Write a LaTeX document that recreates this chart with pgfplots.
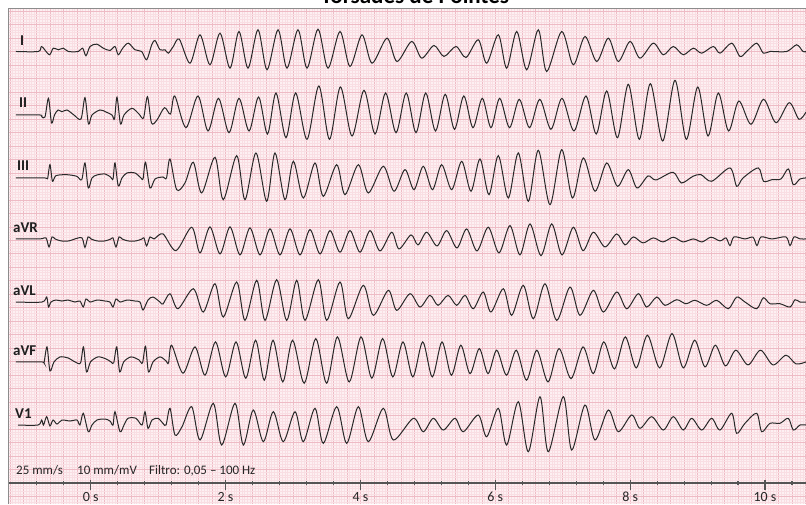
\documentclass[border=0pt]{standalone}
\usepackage{pgfplots}
\pgfplotsset{compat=1.18}
\usepackage{pgfplotstable}
\usepackage{fontspec}
\setmainfont{Carlito}

\definecolor{paper}{RGB}{253,240,242}
\definecolor{gridminor}{RGB}{249,222,227}
\definecolor{gridmajor}{RGB}{238,187,197}
\definecolor{trace}{RGB}{40,40,40}
\definecolor{axisgray}{RGB}{85,85,85}
\definecolor{framegray}{RGB}{140,140,140}

% t in s, v in mV above the lead's own baseline
\pgfplotstableread{
t v
-1.108 0
-0.777 0
-0.727 0.185
-0.614 -0.122
-0.555 0.122
-0.480 0.063
-0.406 0.122
-0.332 0
-0.184 0
-0.119 0.122
-0.070 -0.159
-0.010 0.185
0.089 0.271
0.187 0.122
0.286 0.037
0.360 0.185
0.409 -0.122
0.475 0.122
0.558 0.308
0.657 0.063
0.756 0
0.830 -0.308
0.905 0.248
0.954 0.408
1.028 0.063
1.102 0.063
1.151 -0.063
1.225 0.185
1.314 0.456
1.473 -0.434
1.621 0.619
1.769 -0.493
1.918 0.679
2.066 -0.619
2.199 0.742
2.333 -0.619
2.481 0.805
2.615 -0.679
2.778 0.805
2.911 -0.619
3.074 0.805
3.208 -0.619
3.371 0.827
3.519 -0.619
3.697 0.742
3.845 -0.556
4.023 0.619
4.172 -0.434
4.394 0.493
4.542 -0.371
4.760 0.371
4.909 -0.248
5.091 0.222
5.239 -0.185
5.417 0.185
5.566 -0.222
5.748 0.434
5.873 -0.434
6.045 0.619
6.169 -0.619
6.318 0.742
6.466 -0.679
6.638 0.805
6.762 -0.742
6.985 0.742
7.157 -0.493
7.330 0.556
7.504 -0.371
7.676 0.493
7.824 -0.371
7.998 0.371
8.146 -0.248
8.343 0.308
8.492 -0.122
8.640 0.185
8.788 -0.122
8.937 0.122
9.061 -0.063
9.233 0.185
9.333 -0.063
9.506 0.308
9.629 -0.185
9.728 0
9.877 0.308
9.975 -0.063
10.074 0
10.322 0
10.470 0.248
10.563 0
10.608 0
}\leadI

\pgfplotstableread{
t v
-1.108 0
-0.752 0
-0.727 -0.063
-0.678 -0.074
-0.626 0.619
-0.581 -0.297
-0.537 0
-0.485 0.185
-0.426 0.122
-0.351 0.185
-0.248 0
-0.144 -0.148
-0.085 0.642
-0.033 -0.334
0.019 0
0.138 0.185
0.227 0.111
0.316 0
0.353 -0.148
0.390 0.656
0.442 -0.334
0.494 0
0.612 0.248
0.716 0.037
0.783 -0.111
0.842 0.679
0.902 -0.297
0.983 -0.185
1.094 0.271
1.183 0.037
1.247 0.705
1.413 -0.471
1.591 0.705
1.740 -0.593
1.895 0.619
2.051 -0.656
2.199 0.619
2.348 -0.593
2.490 0.667
2.622 -0.705
2.748 0.816
2.896 -0.842
3.039 0.816
3.208 -0.901
3.383 1.075
3.541 -0.901
3.703 1.038
3.875 -0.779
4.053 0.916
4.216 -0.705
4.373 0.816
4.528 -0.656
4.679 0.816
4.824 -0.656
4.968 0.816
5.113 -0.593
5.257 0.768
5.395 -0.530
5.533 0.705
5.669 -0.471
5.807 0.619
5.936 -0.471
6.065 0.619
6.211 -0.471
6.356 0.582
6.507 -0.471
6.660 0.582
6.826 -0.530
6.989 0.619
7.167 -0.593
7.345 0.705
7.498 -0.705
7.652 0.890
7.812 -0.842
7.973 1.138
8.136 -0.901
8.300 1.161
8.483 -0.964
8.665 1.287
8.833 -0.901
9.002 1.038
9.155 -0.779
9.307 0.816
9.459 -0.593
9.611 0.519
9.792 -0.345
9.978 0.582
10.163 -0.286
10.359 0.456
10.504 -0.159
10.608 0.111
}\leadII

\pgfplotstableread{
t v
-1.108 0
-0.678 0
-0.641 -0.037
-0.604 0.493
-0.567 -0.122
-0.515 0.085
-0.356 0.122
-0.208 0.063
-0.133 -0.063
-0.085 0.556
-0.036 -0.371
0.019 0
0.093 0.111
0.212 0.148
0.294 0.037
0.331 -0.037
0.360 0.556
0.409 -0.297
0.464 0
0.538 0.185
0.657 0.185
0.746 0
0.776 -0.037
0.813 0.582
0.879 -0.371
0.954 -0.037
1.072 0.037
1.124 0
1.176 0.705
1.275 -0.434
1.398 -0.185
1.522 0.582
1.646 -0.556
1.843 0.768
1.966 -0.805
2.165 0.827
2.288 -0.805
2.451 0.927
2.610 -0.864
2.733 0.927
2.881 -0.805
3.005 0.619
3.153 -0.742
3.326 0.556
3.449 -0.679
3.648 0.493
3.771 -0.619
3.969 0.493
4.117 -0.556
4.339 0.434
4.498 -0.493
4.661 0.308
4.795 -0.434
4.932 0.434
5.069 -0.434
5.205 0.493
5.354 -0.434
5.502 0.619
5.640 -0.493
5.773 0.705
5.907 -0.619
6.045 0.827
6.193 -0.742
6.341 0.927
6.490 -0.864
6.638 1.027
6.811 -0.990
6.985 1.049
7.145 -0.742
7.305 0.742
7.479 -0.493
7.652 0.556
7.812 -0.308
7.973 0.308
8.102 -0.371
8.265 0.074
8.383 -0.074
8.636 0.211
8.760 -0.185
8.932 0.063
9.051 0.122
9.209 -0.122
9.481 0.371
9.580 -0.308
9.674 0
9.901 0.371
9.978 -0.122
10.104 -0.063
10.237 -0.037
10.346 0.334
10.420 -0.248
10.519 -0.037
10.608 0
}\leadIII

\pgfplotstableread{
t v
-1.108 0
-0.752 0
-0.663 0.037
-0.618 -0.297
-0.574 0.074
-0.529 0
-0.440 -0.074
-0.322 -0.074
-0.233 0
-0.129 0.037
-0.085 -0.315
-0.040 0.074
0.004 0
0.093 -0.074
0.212 -0.074
0.301 0
0.331 0.037
0.375 -0.297
0.420 0.074
0.464 0
0.553 -0.074
0.672 -0.074
0.761 0
0.790 0.037
0.830 -0.260
0.879 0.074
0.939 0
1.072 0.185
1.265 -0.434
1.498 0.434
1.621 -0.519
1.769 0.445
1.918 -0.556
2.066 0.445
2.214 -0.593
2.362 0.408
2.511 -0.593
2.659 0.371
2.807 -0.593
2.956 0.371
3.104 -0.593
3.252 0.345
3.401 -0.556
3.549 0.308
3.697 -0.493
3.845 0.308
3.994 -0.493
4.142 0.308
4.290 -0.445
4.464 0.248
4.572 -0.371
4.750 0.148
4.854 -0.222
4.983 0.248
5.136 -0.260
5.279 0.308
5.432 -0.334
5.576 0.371
5.729 -0.445
5.896 0.434
6.055 -0.519
6.218 0.493
6.366 -0.593
6.515 0.556
6.678 -0.619
6.837 0.556
6.989 -0.593
7.157 0.434
7.301 -0.434
7.454 0.248
7.627 -0.297
7.801 0.185
7.924 -0.222
8.047 0.074
8.191 -0.148
8.343 0.037
8.487 -0.111
8.640 0.063
8.784 -0.111
8.937 0
9.066 -0.111
9.199 0.063
9.333 -0.074
9.422 0.037
9.481 -0.248
9.540 0.074
9.703 0
9.822 0.063
9.881 -0.248
9.941 0.074
10.104 0
10.311 0.074
10.371 -0.248
10.430 0.074
10.519 0
10.608 0
}\leadaVR

\pgfplotstableread{
t v
-1.108 0
-0.722 0
-0.653 0.185
-0.626 -0.185
-0.589 0
-0.515 0.074
-0.426 0.037
-0.337 0.074
-0.233 0
-0.159 0.037
-0.110 -0.185
-0.070 0.111
-0.010 0
0.093 0.074
0.212 0.037
0.286 0
0.331 -0.185
0.375 0.111
0.435 0
0.538 0.074
0.657 0.037
0.731 0
0.776 -0.297
0.850 0.074
0.924 0.185
1.028 0
1.072 -0.074
1.176 0.308
1.295 -0.248
1.522 0.493
1.670 -0.371
1.843 0.679
1.966 -0.556
2.165 0.742
2.288 -0.679
2.462 0.805
2.585 -0.679
2.758 0.827
2.907 -0.679
3.055 0.805
3.178 -0.679
3.375 0.827
3.500 -0.679
3.697 0.742
3.820 -0.619
4.043 0.619
4.191 -0.493
4.413 0.434
4.538 -0.308
4.735 0.308
4.884 -0.185
5.032 0.248
5.151 -0.122
5.299 0.248
5.428 -0.122
5.551 0.248
5.674 -0.248
5.822 0.371
5.936 -0.371
6.119 0.493
6.243 -0.493
6.415 0.619
6.564 -0.619
6.737 0.679
6.911 -0.679
7.108 0.556
7.256 -0.493
7.454 0.434
7.602 -0.371
7.801 0.371
7.949 -0.248
8.121 0.308
8.245 -0.185
8.394 0.185
8.517 -0.122
8.690 0.085
8.828 -0.063
8.962 0.063
9.135 -0.122
9.284 0.063
9.456 -0.248
9.580 0.185
9.703 0
9.877 -0.248
9.975 0.159
10.074 -0.063
10.222 -0.063
10.371 -0.185
10.445 0.085
10.519 0
10.608 0
}\leadaVL

\pgfplotstableread{
t v
-1.108 0
-0.722 0
-0.693 -0.037
-0.648 0.556
-0.604 -0.334
-0.544 0
-0.455 0.185
-0.337 0.148
-0.233 0
-0.151 -0.037
-0.107 0.556
-0.062 -0.371
-0.003 0
0.108 0.185
0.227 0.111
0.301 0
0.341 -0.037
0.386 0.556
0.430 -0.371
0.489 0
0.598 0.185
0.716 0.074
0.768 -0.037
0.813 0.582
0.857 -0.371
0.924 0
1.028 0.185
1.117 0.037
1.154 -0.037
1.201 0.619
1.369 -0.419
1.547 0.556
1.695 -0.493
1.851 0.742
2.002 -0.556
2.155 0.742
2.300 -0.604
2.446 0.805
2.574 -0.679
2.704 0.805
2.849 -0.742
2.994 0.805
3.166 -0.790
3.338 0.864
3.498 -0.790
3.659 0.927
3.834 -0.742
4.009 0.927
4.169 -0.604
4.329 0.864
4.480 -0.556
4.631 0.742
4.777 -0.556
4.924 0.742
5.066 -0.556
5.210 0.742
5.349 -0.493
5.489 0.619
5.625 -0.434
5.763 0.493
5.892 -0.434
6.021 0.434
6.166 -0.493
6.312 0.434
6.463 -0.679
6.616 0.434
6.782 -0.742
6.945 0.493
7.123 -0.619
7.301 0.556
7.454 -0.434
7.608 0.742
7.768 -0.260
7.928 0.927
8.091 -0.222
8.256 0.990
8.438 -0.222
8.621 1.049
8.788 -0.222
8.957 0.805
9.110 -0.185
9.263 0.619
9.413 -0.148
9.567 0.434
9.748 -0.111
9.933 0.434
10.119 -0.111
10.311 0.248
10.459 -0.074
10.608 0
}\leadaVF

\pgfplotstableread{
t v
-1.078 0
-0.782 0
-0.727 0.185
-0.700 0
-0.653 0.308
-0.604 -0.037
-0.559 0.185
-0.500 0.037
-0.426 0.185
-0.307 0.148
-0.203 0.185
-0.159 0
-0.110 0.434
-0.036 -0.248
0.019 0
0.093 0.185
0.212 0.222
0.286 0.148
0.331 0
0.360 0.493
0.435 -0.248
0.494 0
0.553 0.248
0.672 0.248
0.761 0
0.805 0.493
0.850 -0.122
0.909 0.185
0.998 0.248
1.072 0.063
1.117 0
1.176 0.619
1.250 -0.371
1.354 -0.063
1.498 0.679
1.621 -0.556
1.818 0.805
1.943 -0.742
2.140 0.805
2.263 -0.742
2.411 0.556
2.560 -0.619
2.708 0.493
2.856 -0.619
3.030 0.493
3.153 -0.619
3.326 0.619
3.449 -0.679
3.648 0.679
3.796 -0.679
3.969 0.679
4.117 -0.619
4.339 0.619
4.488 -0.556
4.784 0.248
4.932 -0.248
5.081 0.248
5.229 -0.185
5.403 0.248
5.526 -0.248
5.748 0.371
5.873 -0.434
6.045 0.619
6.169 -0.742
6.341 0.864
6.490 -0.990
6.663 1.049
6.786 -0.990
7.009 1.049
7.133 -0.927
7.330 0.742
7.479 -0.556
7.676 0.556
7.824 -0.248
8.023 0.371
8.146 -0.122
8.320 0.308
8.492 -0.185
8.640 0.308
8.788 -0.185
8.913 0.248
9.061 -0.185
9.209 0.248
9.333 -0.185
9.506 0.434
9.580 -0.308
9.703 0.063
9.877 0.434
9.951 -0.248
10.074 0.063
10.222 0.063
10.346 0.248
10.420 -0.185
10.519 0
10.608 0
}\leadVI

\begin{document}
\begin{tikzpicture}[x=1pt,y=1pt]
\pgfplotsset{ecg/.style={at={(8pt,0pt)}, anchor=south west, scale only axis,
  width=798pt, height=495pt,
  xmin=-1.2265, xmax=10.608, ymin=-0.7786, ymax=17.575}}

% paper grid: 0.04 s / 0.1 mV small squares, 0.2 s / 0.5 mV large squares
\begin{axis}[ecg,
  xtick distance=0.2, ytick distance=0.5,
  minor x tick num=4, minor y tick num=4,
  grid=both,
  minor grid style={gridminor, line width=0.3pt},
  major grid style={gridmajor, line width=0.55pt},
  xticklabels={}, yticklabels={},
  major tick length=0pt, minor tick length=0pt,
  axis line style={draw=none},
  axis background/.style={fill=paper}]
\end{axis}

\begin{axis}[ecg,
  axis x line=middle, axis y line=none,
  x axis line style={-, draw=axisgray, line width=1.1pt},
  xtick={0,2,4,6,8,10},
  xticklabels={0 s,2 s,4 s,6 s,8 s,10 s},
  minor xtick={-0.8,-0.4,0.4,0.8,1.2,1.6,2.4,2.8,3.2,3.6,4.4,4.8,5.2,5.6,6.4,6.8,7.2,7.6,8.4,8.8,9.2,9.6,10.4},
  ytick=\empty,
  hide obscured x ticks=false,
  tick align=center,
  major tick length=10pt, minor tick length=4.5pt,
  tick style={axisgray, line width=1.1pt},
  every major tick/.append style={yshift=-2pt},
  xticklabel style={font=\fontsize{14}{16}\selectfont, text=black!85, anchor=base, yshift=-13pt},
  clip=false]
\addplot[trace, line width=1pt, smooth] table[x=t, y expr=\thisrow{v}+16.0] {\leadI};
\addplot[trace, line width=1pt, smooth] table[x=t, y expr=\thisrow{v}+13.645] {\leadII};
\addplot[trace, line width=1pt, smooth] table[x=t, y expr=\thisrow{v}+11.31] {\leadIII};
\addplot[trace, line width=1pt, smooth] table[x=t, y expr=\thisrow{v}+9.05] {\leadaVR};
\addplot[trace, line width=1pt, smooth] table[x=t, y expr=\thisrow{v}+6.71] {\leadaVL};
\addplot[trace, line width=1pt, smooth] table[x=t, y expr=\thisrow{v}+4.49] {\leadaVF};
\addplot[trace, line width=1pt, smooth] table[x=t, y expr=\thisrow{v}+2.15] {\leadVI};
\end{axis}

\draw[framegray, line width=1pt] (8,0) -- (8,495) -- (806,495);

\begin{scope}[every node/.style={inner sep=0pt, anchor=base west, text=black!88,
    font=\bfseries\fontsize{15}{17}\selectfont}]
\node at (20,458) {I};
\node at (19,396) {II};
\node at (17,333) {III};
\node at (13,271) {aVR};
\node at (13,208) {aVL};
\node at (13,149) {aVF};
\node at (15,86) {V1};
\end{scope}

\begin{scope}[every node/.style={inner sep=0pt, anchor=base west, text=black!85,
    font=\fontsize{13}{15}\selectfont}]
\node at (16,30) {25 mm/s};
\node at (77,30) {10 mm/mV};
\node at (149,30) {Filtro: 0,05 – 100 Hz};
\end{scope}

\node[inner sep=0pt, anchor=base, font=\bfseries\fontsize{23}{26}\selectfont]
  at (415,500) {Torsades de Pointes};

\pgfresetboundingbox
\useasboundingbox (0,0) rectangle (806,504);
\end{tikzpicture}
\end{document}
